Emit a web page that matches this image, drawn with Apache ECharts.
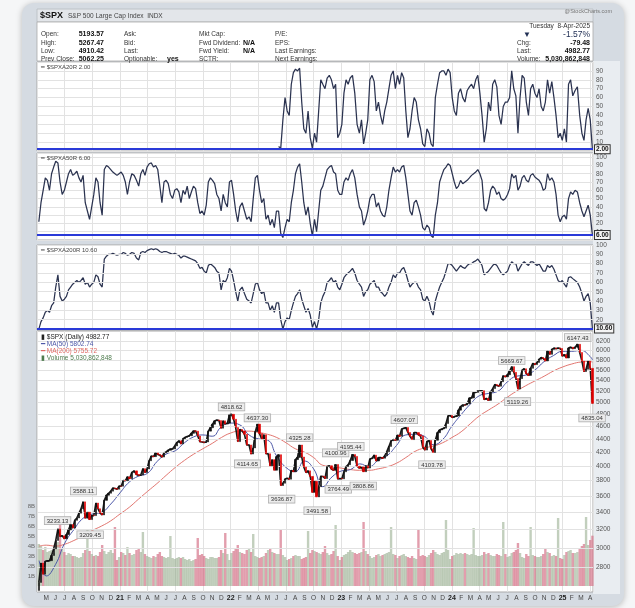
<!DOCTYPE html>
<html><head><meta charset="utf-8">
<script src="https://cdn.jsdelivr.net/npm/echarts@6/dist/echarts.min.js"></script>
<style>html,body{margin:0;padding:0;background:#f5f6f7;}#c{width:635px;height:608px;}</style>
</head><body><div id="c"></div><script>
// ---------- DATA ----------
const weeklyStart = '2020-04-07';          // one sample per week
const firstOpen = 2585;
const spxClose = [
2659,2846,2737,2863,2868,2870,2922,2992,3081,3207,3125,3131,3100,3145,3197,3257,3218,3306,3333,3390,3443,3527,3331,3401,3315,3363,3361,3512,3443,3391,3369,3546,3610,3635,3662,3702,3695,3687,3727,
3726,3801,3799,3849,3826,3911,3932,3881,3870,3875,3962,3910,3958,4074,4141,4134,4187,4165,4152,4127,4188,4202,4227,4246,4246,4291,4343,4369,4323,4401,4423,4436,4448,4486,4523,4520,4443,4354,4352,4345,4351,4520,4575,4631,4685,4700,4690,4567,4686,4634,4649,4786,
4794,4713,4577,4357,4546,4522,4471,4305,4306,4171,4262,4512,4632,4481,4397,4462,4175,4175,4001,4089,3941,4132,4161,3735,3765,3821,3831,3819,3937,3921,4091,4122,4305,4128,3986,3909,3932,3856,3647,3791,3589,3720,3859,3856,3828,3992,4003,3958,3941,4020,3822,3829,
3824,3919,3991,4017,4077,4164,4137,3997,3970,3986,3920,4002,3971,4100,4109,4155,4071,4119,4119,4110,4145,4206,4284,4369,4388,4378,4455,4439,4555,4567,4577,4499,4437,4388,4497,4497,4462,4443,4274,4229,4358,4373,4248,4194,4378,4495,4538,4554,4567,4643,4768,4774,
4743,4756,4766,4865,4924,4954,4953,4975,5078,5079,5175,5178,5204,5205,5209,5051,5070,5036,5187,5247,5321,5306,5291,5375,5487,5469,5509,5577,5667,5556,5436,5240,5434,5597,5625,5529,5496,5634,5732,5709,5751,5815,5851,5832,5783,5984,5917,6021,6049,6034,6051,6040,5882,
5909,5843,6049,6068,6037,6068,6129,5955,5778,5572,5615,5777,5633,4982.77];
const volumeBn = [
4.2,4.0,3.6,3.9, 3.4,3.5,3.6,3.3, 3.8,4.4,6.2,3.7,3.4, 3.1,3.3,3.2,3.0, 3.0,2.9,2.8,2.9, 3.3,3.6,5.6,3.5,3.2, 3.0,3.1,3.0,3.4, 4.1,3.5,3.2,3.4, 3.6,3.3,5.9,2.6,2.9,
3.4,3.3,3.1,3.9, 3.3,3.1,3.2,3.6, 3.8,3.4,5.4,3.2,3.0, 2.9,2.8,3.0,2.9, 3.2,3.4,3.0,2.9, 2.8,2.9,5.0,2.8,2.7, 2.8,2.9,2.8,2.9, 2.7,2.6,2.7,2.5,2.6, 2.7,4.8,3.1,3.2, 3.0,2.8,2.7,2.9, 2.9,2.8,2.8,2.9,3.6, 3.3,5.3,3.2,2.6,
3.3,3.5,3.8,4.1, 3.4,3.3,3.2,3.6, 3.7,3.4,5.2,3.0,2.9, 2.8,2.9,3.0,3.3, 3.6,3.8,3.4,3.3,3.2, 3.2,5.6,3.1,2.9, 2.6,2.7,2.8,3.0, 3.1,3.0,3.0,2.7,2.8, 2.9,5.5,3.3,3.6, 3.5,3.4,3.3,3.2, 3.4,4.0,3.3,3.1,3.2, 3.5,6.1,3.0,2.6,
2.9,3.1,3.2,3.4,3.6, 3.4,3.3,3.2,3.3, 3.4,6.4,3.5,3.2, 3.0,2.8,2.9,3.1, 3.2,3.0,3.1,3.2,3.3, 3.4,5.9,3.2,3.1, 2.8,3.0,3.1,3.2, 3.0,2.9,2.8,3.0,2.8, 2.7,5.6,3.0,3.1, 3.0,2.9,3.1,3.3,3.6, 3.4,3.2,3.1,3.3, 3.4,6.6,3.6,2.7,
3.0,3.1,3.3,3.2,3.3, 3.2,3.3,3.2,3.1, 3.2,5.8,3.1,3.0, 3.0,3.1,3.4,3.2,3.3, 3.1,3.0,3.0,3.2, 3.1,3.0,6.4,3.2, 2.9,3.0,3.3,3.4,3.6, 4.3,3.3,2.9,2.8, 3.2,3.0,5.9,3.1, 3.0,2.9,2.9,3.0,3.2, 3.7,3.4,3.3,3.0, 3.1,3.0,6.8,2.8,2.7,
3.1,3.4,3.5,3.6, 3.3,3.3,3.4,3.8, 4.0,4.2,6.9,4.1, 4.6,5.03];
const pctAbove50 = [
22,45,60,75, 72,60,80,88, 95,93,70,55,60, 70,80,85,78, 80,83,75,70, 78,45,35,25,40, 55,75,70,45, 30,85,90,88, 85,82,80,78,80,
82,78,70,55, 70,80,78,72, 65,80,85,78,88, 92,93,88,90, 85,65,45,70, 72,68,55,50,60, 62,58,45,60, 55,65,50,58,65, 62,45,32,35, 30,42,70,75, 72,68,55,50,35, 55,45,40,70,
72,55,35,22, 40,45,35,25, 28,22,50,75,78, 60,45,50,25, 30,18,25,15,35, 35,8,3,15, 25,22,45,60, 80,88,92,70,45, 30,40,20,5, 25,10,35,60, 65,75,85,88,90, 82,80,60,55,
55,70,75,72,80, 85,75,55,40, 35,18,25,35, 50,55,55,40, 45,35,30,28,40, 60,75,88,82, 85,82,88,90, 75,55,35,30,45, 48,40,30,15, 12,18,15,5,3, 30,45,70,78, 85,88,92,90,
80,70,62,65,72, 68,70,72,75, 78,80,82,85, 80,72,38,35,45, 60,65,62,55, 58,50,48,50, 55,62,80,75,78, 60,65,75,78, 72,70,78,80, 76,74,72,68,60, 62,80,72,75, 70,55,30,22,28,
30,25,50,58, 55,60,58,45, 35,28,35,42, 30,6];
const pctAbove200 = [
10,18,22,28, 30,28,35,38, 55,68,45,40,42, 45,52,55,58, 60,62,60,62, 65,58,60,55,58, 60,68,66,58, 55,85,88,90, 90,91,90,89,90,
90,92,91,89, 90,92,91,86, 84,92,93,92,94, 95,96,95,96, 95,93,92,93, 93,92,91,90,91, 90,89,86,88, 88,87,86,85,84, 83,80,75,76, 72,70,78,80, 78,76,72,70,52, 62,60,65,75,
72,62,50,40, 52,55,48,42, 40,38,48,58,60, 52,48,50,38, 38,30,35,28,38, 38,20,10,18, 22,20,30,38, 45,48,52,42,35, 28,32,25,12, 18,10,20,38, 45,50,60,62,65, 60,62,55,52,
58,65,68,70,72, 75,70,62,58, 55,45,50,52, 58,60,62,55, 55,50,48,45,48, 55,60,68,65, 70,70,74,76, 70,62,55,58,60, 60,55,52,42, 40,45,40,30,25, 40,48,55,60, 65,72,80,80,
78,75,72,75,78, 76,75,78,80, 80,82,83,85, 82,78,68,70,72, 75,78,80,78, 74,70,68,70, 72,78,82,80,80, 72,76,80,82, 80,78,82,82, 80,78,80,76,72, 72,78,76,78, 74,68,62,60,62,
58,55,65,66, 64,62,60,55, 48,40,45,48, 38,10.6];
const pct20Start = '2022-06-07';
const pctAbove20 = [
5,3,35,60, 45,40,75,88, 92,90,93,55,25, 20,45,15,3, 20,10,45,80, 75,70,82,85,80, 70,75,15,20,
30,65,80,75,82, 85,65,30,20, 35,8,20,35, 80,85,78,45, 55,40,30,45,55, 70,85,90,70, 85,75,88,82, 45,15,25,45,60, 55,35,25,8, 5,25,20,8,5, 60,75,88,90, 90,85,92,88,
60,45,40,65,70, 60,55,68,72, 75,70,80,85, 65,40,10,25,55, 45,75,80,72, 40,30,50,55, 55,60,90,70,62, 20,60,85,82, 55,40,70,75, 65,60,70,50,45, 55,80,65,78, 60,40,15,20,12,
25,10,75,80, 62,68,72,40, 20,12,35,48, 35,2];
// moving averages: first on 2020-04-08, then each month start May 2020..Apr 2025, last on 2025-04-08
const ma50 = [2870,
2720,2830,3050,3200,3330,3380,3400,3500,
3640,3780,3860,3900,4060,4170,4220,4340,4430,4460,4440,4590,
4650,4620,4460,4400,4380,4140,3980,3920,4070,3960,3720,3850,
3930,3950,4030,3990,4080,4150,4300,4460,4470,4440,4310,4390,
4600,4790,4970,5120,5160,5200,5370,5480,5500,5600,5770,5890,
5980,5980,6000,5870, 5802.74];
const ma200 = [3020,
3030,3020,3040,3080,3130,3190,3240,3300,
3380,3460,3560,3660,3760,3870,3980,4080,4170,4250,4330,4420,
4490,4520,4520,4500,4470,4420,4340,4250,4200,4120,4010,3990,
3970,3950,3940,3940,3960,3990,4040,4120,4210,4260,4290,4340,
4420,4510,4640,4770,4870,4970,5090,5200,5300,5390,5480,5580,
5660,5720,5760,5770, 5755.72];
const annotations = [
['2020-06-08',3233.13,'top'],['2020-09-02',3588.11,'top'],['2020-09-24',3209.45,'bottom'],
['2022-01-04',4818.62,'top'],['2022-02-24',4114.65,'bottom'],['2022-03-29',4637.30,'top'],
['2022-06-17',3636.87,'bottom'],['2022-08-16',4325.28,'top'],['2022-10-13',3491.58,'bottom'],
['2022-12-13',4100.96,'top'],['2022-12-22',3764.49,'bottom'],['2023-02-02',4195.44,'top'],
['2023-03-13',3808.86,'bottom'],['2023-07-27',4607.07,'top'],['2023-10-27',4103.78,'bottom'],
['2024-07-16',5669.67,'top'],['2024-08-05',5119.26,'bottom'],['2025-02-19',6147.43,'top'],
['2025-04-07',4835.04,'bottom']];
const priceTicks = [2800,3000,3200,3400,3600,3800,4000,4200,4400,4600,4800,5000,5200,5400,5600,5800,6000,6200];
const pct200Ticks = [10,20,30,40,50,60,70,80,90,100];
const monthLetters = ['J','F','M','A','M','J','J','A','S','O','N','D'];
const lastPct20 = '2.00', lastPct50 = '6.00', lastPct200 = '10.60';
const lastClose = '4982.77', lastMa50 = '5802.74', lastMa200 = '5755.72', lastVolume = '5,030,862,848';
const headerLeft = [['Open:','5193.57'],['High:','5267.47'],['Low:','4910.42'],['Prev Close:','5062.25']];
const headerMid1 = [['Ask:',''],['Bid:',''],['Last:',''],['Optionable:','yes']];
const headerMid2 = [['Mkt Cap:',''],['Fwd Dividend:','N/A'],['Fwd Yield:','N/A'],['SCTR:','']];
const headerMid3 = ['P/E:','EPS:','Last Earnings:','Next Earnings:'];
const headerRight = [['Chg:','-79.48'],['Last:','4982.77'],['Volume:','5,030,862,848']];

// ---------- helpers ----------
const DAY = 86400000;
function parseDate(s){const p=s.split('-').map(Number);return new Date(Date.UTC(p[0],p[1]-1,p[2]));}
function monthCoord(d){const y=d.getUTCFullYear(),mo=d.getUTCMonth(),day=d.getUTCDate();
  const dim=new Date(Date.UTC(y,mo+1,0)).getUTCDate();return (y-2020)*12+mo+(day-1)/dim;}
function weekCoord(start,i){return monthCoord(new Date(parseDate(start).getTime()+i*7*DAY));}
const maCoords = ma50.map((v,i)=> i===0 ? monthCoord(parseDate('2020-04-08'))
   : (i===ma50.length-1 ? monthCoord(parseDate('2025-04-08')) : 3+i));

const F = '"Liberation Sans", Arial, sans-serif';
const XMIN=3, XMAX=63.3;
const LEFT=37, RIGHT=42;

const candleData = spxClose.map((c,i)=>{const o=i===0?firstOpen:spxClose[i-1];
  return [weekCoord(weeklyStart,i),o,c,Math.min(o,c),Math.max(o,c)];});
const closeLine = spxClose.map((c,i)=>[weekCoord(weeklyStart,i),c]);
const volData = volumeBn.map((v,i)=>{const o=i===0?firstOpen:spxClose[i-1];const up=spxClose[i]>=o;
  return {value:[weekCoord(weeklyStart,i),v],itemStyle:{color:up?'rgba(150,172,142,0.58)':'rgba(212,112,134,0.68)'}};});
const p50 = pctAbove50.map((v,i)=>[weekCoord(weeklyStart,i),v]);
const p200 = pctAbove200.map((v,i)=>[weekCoord(weeklyStart,i),v]);
const p20 = pctAbove20.map((v,i)=>[weekCoord(pct20Start,i),v]);
const m50 = ma50.map((v,i)=>[maCoords[i],v]);
const m200 = ma200.map((v,i)=>[maCoords[i],v]);

const grids = [
 {left:LEFT,right:RIGHT,top:62,height:89},
 {left:LEFT,right:RIGHT,top:153,height:87},
 {left:LEFT,right:RIGHT,top:245,height:85},
 {left:LEFT,right:RIGHT,top:331,height:261},
].map(g=>Object.assign(g,{show:true,backgroundColor:'#fff',borderColor:'#a9a9a9',borderWidth:1}));
grids.push({left:LEFT,right:RIGHT,top:506,height:80,show:false});

const gridLineColor = '#e2e2e2';
function xAx(g,split){return {type:'value',gridIndex:g,min:XMIN,max:XMAX,interval:3,
  axisLabel:{show:false},axisTick:{show:false},axisLine:{show:false},
  splitLine:{show:split,lineStyle:{color:gridLineColor,width:1}}};}
const xAxes=[xAx(0,true),xAx(1,true),xAx(2,true),xAx(3,true),xAx(4,false),
 {type:'value',gridIndex:3,min:XMIN,max:XMAX,interval:1,position:'bottom',
  axisLine:{show:false},axisTick:{show:false},splitLine:{show:false},
  axisLabel:{show:true,margin:3,fontSize:6.5,color:'#444',fontFamily:F,
   formatter:v=>{if(Math.abs(v-Math.round(v))>1e-6||v<4)return '';const mo=v%12;
     return mo===0?'{y|'+String(20+v/12)+'}':monthLetters[mo];},
   rich:{y:{fontWeight:'bold',fontSize:7,color:'#222',fontFamily:F}}}}];

const lab = {fontSize:6.5,color:'#555',fontFamily:F};
const yAxes=[
 {type:'value',gridIndex:0,position:'right',min:0,max:100,interval:10,
  axisLine:{show:false},axisTick:{show:false},splitLine:{lineStyle:{color:gridLineColor}},
  axisLabel:Object.assign({margin:3,formatter:v=>(v>0&&v<100)?String(v):''},lab)},
 {type:'value',gridIndex:1,position:'right',min:0,max:105,interval:10,
  axisLine:{show:false},axisTick:{show:false},splitLine:{lineStyle:{color:gridLineColor}},
  axisLabel:Object.assign({margin:3,formatter:v=>(v>0&&v<=100&&v%10===0)?String(v):''},lab)},
 {type:'value',gridIndex:2,position:'right',min:9,max:100,
  axisLine:{show:false},axisTick:{show:false},splitLine:{show:false},axisLabel:{show:false}},
 {type:'log',logBase:10,gridIndex:3,position:'right',min:2571,max:6422,
  axisLine:{show:false},axisTick:{show:false},splitLine:{show:false},axisLabel:{show:false}},
 {type:'value',gridIndex:4,position:'left',min:0,max:8,interval:1,
  axisLine:{show:false},axisTick:{show:false},splitLine:{show:false},
  axisLabel:{margin:2,fontSize:6,color:'#666',fontFamily:F,formatter:v=>v>0?v+'B':''}}];

const boxLabel = (text,border,color)=>({show:true,position:'end',distance:2,formatter:text,
  fontSize:6.5,fontWeight:'bold',color:color||'#111',fontFamily:F,backgroundColor:'#f4f4f4',
  borderColor:border||'#333',borderWidth:1,padding:[1,1,0,1]});
const blueLine = {color:'#2a3ad8',width:2,type:'solid'};
const breadthStyle = {color:'#2b3350',width:1.25};

function gridMarks(ticks){return ticks.map(v=>({yAxis:v,lineStyle:{color:gridLineColor,width:1,type:'solid'},
  label:{show:true,position:'end',distance:3,formatter:String(v),fontSize:6.5,color:'#555',fontFamily:F}}));}

const series=[
 {type:'line',name:'$SPXA20R',xAxisIndex:0,yAxisIndex:0,data:p20,showSymbol:false,lineStyle:breadthStyle,z:3,
  markLine:{silent:true,symbol:['none','none'],animation:false,
   data:[{yAxis:2,lineStyle:blueLine,label:boxLabel(lastPct20)}]}},
 {type:'line',name:'$SPXA50R',xAxisIndex:1,yAxisIndex:1,data:p50,showSymbol:false,lineStyle:breadthStyle,z:3,
  markLine:{silent:true,symbol:['none','none'],animation:false,
   data:[{yAxis:6,lineStyle:blueLine,label:boxLabel(lastPct50)}]}},
 {type:'line',name:'$SPXA200R',xAxisIndex:2,yAxisIndex:2,data:p200,showSymbol:false,lineStyle:breadthStyle,z:3,
  markLine:{silent:true,symbol:['none','none'],animation:false,
   data:gridMarks(pct200Ticks).concat([{yAxis:10.6,lineStyle:blueLine,label:boxLabel(lastPct200)}])}},
 {type:'bar',name:'Volume',xAxisIndex:4,yAxisIndex:4,data:volData,barWidth:2.4,z:1,
  markLine:{silent:true,symbol:['none','none'],animation:false,
   data:[{yAxis:5.03,lineStyle:{opacity:0},label:Object.assign(boxLabel('5030862848','#777','#222'),{fontSize:5,backgroundColor:'#d6d6d6'})}]}},
 {type:'line',name:'MA200',xAxisIndex:3,yAxisIndex:3,data:m200,showSymbol:false,smooth:true,
  lineStyle:{color:'#e27670',width:1},z:2,
  markLine:{silent:true,symbol:['none','none'],animation:false,data:gridMarks(priceTicks)}},
 {type:'line',name:'MA50',xAxisIndex:3,yAxisIndex:3,data:m50,showSymbol:false,smooth:true,
  lineStyle:{color:'#4d58a8',width:1},z:3,
  markLine:{silent:true,symbol:['none','none'],animation:false,
   data:[{yAxis:5802.74,lineStyle:{opacity:0},label:boxLabel(lastMa50,'#4d58a8','#3a4594')}]}},
 {type:'line',name:'$SPX close',xAxisIndex:3,yAxisIndex:3,data:closeLine,showSymbol:false,
  lineStyle:{color:'#1a1a1a',width:1.6},z:4},
 {type:'candlestick',name:'$SPX',xAxisIndex:3,yAxisIndex:3,data:candleData,encode:{x:0,y:[1,2,3,4]},
  barWidth:1.8,z:5,
  itemStyle:{color:'#111',color0:'#e00000',borderColor:'#111',borderColor0:'#e00000',borderWidth:0.6},
  markPoint:{silent:true,animation:false,symbol:'rect',symbolSize:[1,1],itemStyle:{color:'rgba(0,0,0,0)'},
   data:annotations.map(a=>({coord:[monthCoord(parseDate(a[0])),a[1]],
    label:{show:true,position:a[2],distance:2,formatter:a[1].toFixed(2),fontSize:6,color:'#333',fontFamily:F,
     backgroundColor:'#ececec',borderColor:'#b0b0b0',borderWidth:0.8,padding:[1,2,0,2]}}))},
  markLine:{silent:true,symbol:['none','none'],animation:false,
   data:[{yAxis:4982.77,lineStyle:{opacity:0},label:boxLabel(lastClose,'#111','#000')}]}}
];

// ---------- graphics: frame, header, legends ----------
function txt(x,y,text,o){o=o||{};return {type:'text',z:100,silent:true,
  style:{x:x,y:y,text:text,fill:o.fill||'#333',font:(o.bold?'bold ':'')+(o.size||6.5)+'px '+F,
   textAlign:o.align||'left',align:o.align||'left',textVerticalAlign:'middle',verticalAlign:'middle'}};}
const g=[];
g.push({type:'rect',z:-20,silent:true,shape:{x:22,y:3,width:602,height:603,r:12},
  style:{fill:'#d5dbe2',shadowBlur:6,shadowColor:'rgba(0,0,0,0.25)',shadowOffsetY:1}});
g.push({type:'rect',z:-19,silent:true,shape:{x:593,y:61,width:27,height:533},style:{fill:'#e9edf1'}});
g.push({type:'rect',z:-19,silent:true,shape:{x:37,y:9,width:556,height:13},style:{fill:'#e3e6ea',stroke:'#b8bcc2',lineWidth:0.8}});
g.push({type:'rect',z:-19,silent:true,shape:{x:37,y:22,width:556,height:39},style:{fill:'#fff',stroke:'#a9a9a9',lineWidth:0.8}});
g.push(txt(40,16,'$SPX',{bold:true,size:9,fill:'#111'}));
g.push(txt(68,16,'S&P 500 Large Cap Index  INDX',{size:6.5,fill:'#444'}));
g.push(txt(612,11,'@StockCharts.com',{size:5.5,fill:'#777',align:'right'}));
const rowsY=[34,43,51,59];
headerLeft.forEach((r,i)=>{g.push(txt(41,rowsY[i],r[0]));g.push(txt(104,rowsY[i],r[1],{bold:true,size:7,fill:'#111',align:'right'}));});
headerMid1.forEach((r,i)=>{g.push(txt(124,rowsY[i],r[0]));if(r[1])g.push(txt(167,rowsY[i],r[1],{bold:true,size:7,fill:'#111'}));});
headerMid2.forEach((r,i)=>{g.push(txt(199,rowsY[i],r[0]));if(r[1])g.push(txt(243,rowsY[i],r[1],{bold:true,size:7,fill:'#111'}));});
headerMid3.forEach((r,i)=>{g.push(txt(275,rowsY[i],r));});
g.push(txt(590,26,'Tuesday  8-Apr-2025',{align:'right',fill:'#333'}));
g.push(txt(527,35,'▼',{size:8,fill:'#223055',align:'center'}));
g.push(txt(590,34.5,'-1.57%',{size:8.5,fill:'#223055',align:'right'}));
headerRight.forEach((r,i)=>{g.push(txt(517,rowsY[i+1],r[0]));g.push(txt(590,rowsY[i+1],r[1],{bold:true,size:7,fill:'#111',align:'right'}));});
g.push(txt(41,67,'━ $SPXA20R '+lastPct20,{size:6,fill:'#444'}));
g.push(txt(41,158,'━ $SPXA50R '+lastPct50,{size:6,fill:'#444'}));
g.push(txt(41,250,'━ $SPXA200R '+lastPct200,{size:6,fill:'#444'}));
g.push(txt(41,337,'▮ $SPX (Daily) '+lastClose,{size:6.5,fill:'#222'}));
g.push(txt(41,344,'━ MA(50) '+lastMa50,{size:6.5,fill:'#4d58a8'}));
g.push(txt(41,351,'━ MA(200) '+lastMa200,{size:6.5,fill:'#e06a64'}));
g.push(txt(41,358,'▮ Volume '+lastVolume,{size:6.5,fill:'#4f7c4f'}));

const chart = echarts.init(document.getElementById('c'),null,{renderer:'canvas'});
chart.setOption({backgroundColor:'#f5f6f7',animation:false,grid:grids,xAxis:xAxes,yAxis:yAxes,series:series,graphic:{elements:g}});
</script></body></html>
